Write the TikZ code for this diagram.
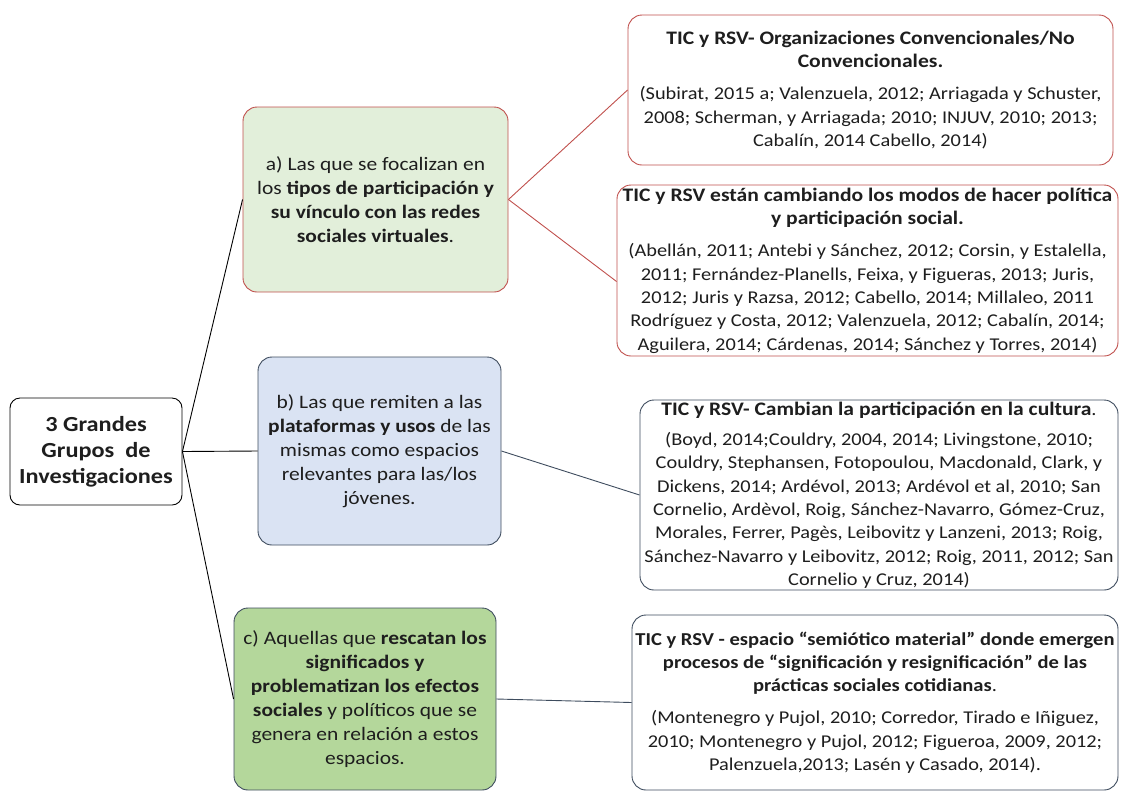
\documentclass[tikz,border=0pt]{standalone}
\usepackage{fontspec}
\setmainfont{Carlito}[FakeStretch=1.13]
\usetikzlibrary{positioning}
\definecolor{GGRed}{HTML}{C0504D}
\definecolor{GGSlate}{HTML}{3E4C5E}
\definecolor{GGInk}{HTML}{1E1E1E}
\definecolor{GGGreenLt}{HTML}{E2EFDA}
\definecolor{GGGreenMd}{HTML}{B4D79B}
\definecolor{GGBlue}{HTML}{DAE3F3}
\tikzset{
  box/.style={draw=GGSlate,line width=0.9pt,fill=white,rounded corners=14pt,
              text=GGInk,align=center,inner sep=0pt},
  boxred/.style={box,draw=GGRed},
  rootbox/.style={box,draw=black,rounded corners=10pt,
                  font=\fontsize{21.5}{26}\selectfont\bfseries},
  groupa/.style={boxred,fill=GGGreenLt,font=\fontsize{19}{24}\selectfont},
  groupb/.style={box,fill=GGBlue,font=\fontsize{19}{24}\selectfont},
  groupc/.style={box,fill=GGGreenMd,font=\fontsize{19}{24}\selectfont},
  cite/.style={font=\fontsize{18}{23.3}\selectfont},
  link/.style={line width=0.9pt,black},
  linkred/.style={link,GGRed},
  linkslate/.style={link,GGSlate},
}
\newcommand{\ttl}[2][19.1]{{\fontsize{#1}{23.3}\selectfont\bfseries #2}}

\begin{document}
\begin{tikzpicture}[x=1pt,y=-1pt]
  \useasboundingbox (0,0) rectangle (1121,796);
  % --- root ---
  \node[rootbox,minimum width=172,minimum height=107] (root) at (96,451.5)
    {3 Grandes\\Grupos\ \ de\\Investigaciones};

  % --- the three groups ---
  \node[groupa,minimum width=265,minimum height=185] (ga) at (375.5,199.5)
    {a) Las que se focalizan en\\los \textbf{tipos de participación y}\\
     \textbf{su vínculo con las redes}\\\textbf{sociales virtuales}.};
  \node[groupb,minimum width=243,minimum height=188] (gb) at (379.5,451)
    {b) Las que remiten a las\\\textbf{plataformas y usos} de las\\
     mismas como espacios\\relevantes para las/los\\jóvenes.};
  \node[groupc,minimum width=262,minimum height=182] (gc) at (365,699)
    {c) Aquellas que \textbf{rescatan los}\\\textbf{significados y}\\
     \textbf{problematizan los efectos}\\\textbf{sociales} y políticos que se\\
     genera en relación a estos\\espacios.};

  % --- references ---
  \node[boxred,cite,minimum width=485,minimum height=150] (ta) at (870.5,90)
    {\ttl{TIC y RSV- Organizaciones Convencionales/No}\\
     \ttl{Convencionales.}\\[9pt]
     (Subirat, 2015 a; Valenzuela, 2012; Arriagada y Schuster,\\
     2008; Scherman, y Arriagada; 2010; INJUV, 2010; 2013;\\
     Cabalín, 2014 Cabello, 2014)};
  \node[boxred,cite,minimum width=501,minimum height=171] (tb) at (867.5,270.5)
    {\ttl{TIC y RSV están cambiando los modos de hacer política}\\
     \ttl{y participación social.}\\[9pt]
     (Abellán, 2011; Antebi y Sánchez, 2012; Corsin, y Estalella,\\
     2011; Fernández-Planells, Feixa, y Figueras, 2013; Juris,\\
     2012; Juris y Razsa, 2012; Cabello, 2014; Millaleo, 2011\\
     Rodríguez y Costa, 2012; Valenzuela, 2012; Cabalín, 2014;\\
     Aguilera, 2014; Cárdenas, 2014; Sánchez y Torres, 2014)};
  \node[box,cite,minimum width=478,minimum height=190] (tc) at (879,495)
    {\ttl{TIC y RSV- Cambian la participación en la cultura}.\\[7pt]
     (Boyd, 2014;Couldry, 2004, 2014; Livingstone, 2010;\\
     Couldry, Stephansen, Fotopoulou, Macdonald, Clark, y\\
     Dickens, 2014; Ardévol, 2013; Ardévol et al, 2010; San\\
     Cornelio, Ardèvol, Roig, Sánchez-Navarro, Gómez-Cruz,\\
     Morales, Ferrer, Pagès, Leibovitz y Lanzeni, 2013; Roig,\\
     Sánchez-Navarro y Leibovitz, 2012; Roig, 2011, 2012; San\\
     Cornelio y Cruz, 2014)};
  \node[box,cite,minimum width=486,minimum height=175] (td) at (875,702.5)
    {\ttl[18.2]{TIC y RSV - espacio “semiótico material” donde emergen}\\
     \ttl[18.2]{procesos de “significación y resignificación” de las}\\
     \ttl[18.2]{prácticas sociales cotidianas}.\\[9pt]
     (Montenegro y Pujol, 2010; Corredor, Tirado e Iñiguez,\\
     2010; Montenegro y Pujol, 2012; Figueroa, 2009, 2012;\\
     Palenzuela,2013; Lasén y Casado, 2014).};

  % --- connectors ---
  \draw[link] (root.east) -- (ga.west);
  \draw[link] (root.east) -- (gb.west);
  \draw[link] (root.east) -- (gc.west);
  \draw[linkred] (ga.east) -- (ta.west);
  \draw[linkred] (ga.east) -- ([yshift=-11pt]tb.west);
  \draw[linkslate] (gb.east) -- (tc.west);
  \draw[linkslate] (gc.east) -- (td.west);
\end{tikzpicture}
\end{document}
